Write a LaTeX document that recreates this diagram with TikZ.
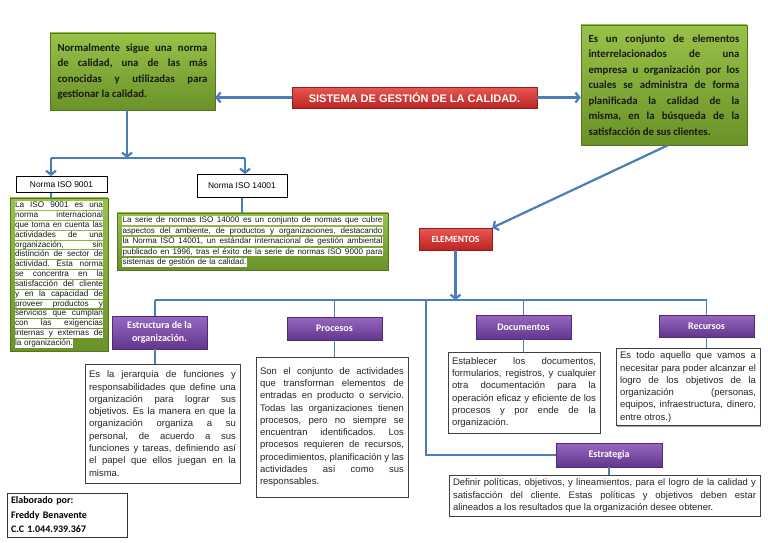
\documentclass[tikz,border=0pt]{standalone}
\usepackage{fontspec}
\setmainfont{Liberation Sans}
\newfontfamily\calibri{Carlito}
\usepackage{xcolor}
\usepackage{tikz}
\usetikzlibrary{positioning, arrows.meta, shadows}

\definecolor{azul}{RGB}{74,126,187}
\definecolor{verdeclaro}{RGB}{152,194,72}
\definecolor{verdeoscuro}{RGB}{106,146,40}
\definecolor{rojoclaro}{RGB}{232,88,82}
\definecolor{rojooscuro}{RGB}{188,36,34}
\definecolor{moradoclaro}{RGB}{152,104,192}
\definecolor{moradooscuro}{RGB}{98,54,142}
\tolerance=10000
\hbadness=10000
\hyphenpenalty=10000
\frenchspacing
% franjas blancas por renglon
\newcommand{\franja}[2]{\colorbox{white}{\parbox{#1}{\spaceskip=0pt\xspaceskip=0pt\parfillskip=0pt\relax\vrule height 0.72em depth 0.22em width 0pt #2}}}
\newcommand{\ultima}[1]{\colorbox{white}{\vrule height 0.72em depth 0.22em width 0pt #1}}

\begin{document}
\begin{tikzpicture}[x=1pt, y=-1pt,
    sombra/.style={drop shadow={shadow xshift=1.3pt, shadow yshift=-1.3pt, fill=black, opacity=0.35}},
    verde/.style={draw=verdeoscuro!80!black, top color=verdeclaro, bottom color=verdeoscuro, text=black!90, sombra},
    rojo/.style={draw=rojooscuro!80!black, top color=rojoclaro, bottom color=rojooscuro, text=white, sombra},
    morado/.style={draw=moradooscuro!80!black, top color=moradoclaro, bottom color=moradooscuro, text=white, minimum width=95pt, align=center, font=\calibri\bfseries\fontsize{10}{13}\selectfont, sombra},
    norma/.style={draw=black, line width=0.9pt, fill=white, font=\fontsize{8.4}{10}\selectfont},
    cuadro/.style={draw=black!75, line width=1pt, fill=white, align=justify, inner xsep=4pt, text=black!85, font=\fontsize{9.5}{12.3}\selectfont, sombra},
    flecha/.style={azul, line width=2.2pt, -{Straight Barb[length=4pt, width=10pt]}},
    tronco/.style={azul, line width=2.2pt},
    linea/.style={azul, line width=1.1pt}]
    \fill[white] (0,0) rectangle (768,543);
    \useasboundingbox (0,0) rectangle (768,543);

    % parte superior
    \node[verde, minimum width=165pt, minimum height=77pt, text width=150pt, align=justify,
        font=\calibri\bfseries\fontsize{10.8}{15.5}\selectfont] (nota) at (132.5,71.5)
        {Normalmente sigue una norma\linebreak de calidad, una de las más\linebreak conocidas y utilizadas para\linebreak gestionar la calidad.};
    \node[rojo, minimum width=245pt, minimum height=21pt, font=\bfseries\fontsize{11}{13}\selectfont] (titulo) at (414.5,97.5)
        {SISTEMA DE GESTIÓN DE LA CALIDAD.};
    \node[verde, minimum width=166pt, minimum height=120pt, text width=151pt, align=justify,
        font=\calibri\bfseries\fontsize{10.8}{15.5}\selectfont] (definicion) at (664,85)
        {Es un conjunto de elementos\linebreak interrelacionados de una\linebreak empresa u organización por los\linebreak cuales se administra de forma\linebreak planificada la calidad de la\linebreak misma, en la búsqueda de la\linebreak satisfacción de sus clientes.};

    % normas ISO
    \node[norma, minimum width=91pt, minimum height=16pt] (iso9001) at (61.5,184.5) {Norma ISO 9001};
    \node[norma, minimum width=90pt, minimum height=23pt] (iso14001) at (242,186) {Norma ISO 14001};
    \node[verde, minimum width=98pt, minimum height=151pt, text width=89pt, align=left,
        font=\fontsize{8.2}{9.85}\selectfont\setlength{\fboxsep}{0.5pt}] (texto9001) at (59,274.5)
        {\franja{88pt}{La ISO 9001 es una}\\
        \franja{88pt}{norma internacional}\\
        \franja{88pt}{que toma en cuenta las}\\
        \franja{88pt}{actividades de una}\\
        \franja{88pt}{organización, sin}\\
        \franja{88pt}{distinción de sector de}\\
        \franja{88pt}{actividad. Esta norma}\\
        \franja{88pt}{se concentra en la}\\
        \franja{88pt}{satisfacción del cliente}\\
        \franja{88pt}{y en la capacidad de}\\
        \franja{88pt}{proveer productos y}\\
        \franja{88pt}{servicios que cumplan}\\
        \franja{88pt}{con las exigencias}\\
        \franja{88pt}{internas y externas de}\\
        \ultima{la organización.}};
    \node[verde, minimum width=271pt, minimum height=57pt, text width=261pt, align=left,
        font=\fontsize{8.1}{10.5}\selectfont\setlength{\fboxsep}{0.5pt}] (texto14001) at (252.5,241.5)
        {\franja{260pt}{La serie de normas ISO 14000 es un conjunto de normas que cubre}\\
        \franja{260pt}{aspectos del ambiente, de productos y organizaciones, destacando}\\
        \franja{260pt}{la Norma ISO 14001, un estándar internacional de gestión ambiental}\\
        \franja{260pt}{publicado en 1996, tras el éxito de la serie de normas ISO 9000 para}\\
        \ultima{sistemas de gestión de la calidad.}};

    % elementos
    \node[rojo, minimum width=73pt, minimum height=22pt, font=\calibri\bfseries\fontsize{9.5}{11}\selectfont] (elementos) at (455.5,239) {ELEMENTOS};
    \node[morado, minimum height=33pt] (estructura) at (159.5,332.5) {Estructura de la\\organización.};
    \node[morado, minimum height=23pt] (procesos) at (334.5,328.5) {Procesos};
    \node[morado, minimum height=24pt] (documentos) at (523.5,327) {Documentos};
    \node[morado, minimum height=22pt] (recursos) at (706.5,326) {Recursos};
    \node[morado, minimum width=106pt, minimum height=24pt] (estrategia) at (609,455) {Estrategia};

    \node[cuadro, minimum width=155pt, minimum height=119pt, text width=147pt] (txtestructura) at (162.5,423.5)
        {Es la jerarquía de funciones y\linebreak responsabilidades que define una\linebreak organización para lograr sus\linebreak objetivos. Es la manera en que la\linebreak organización organiza a su\linebreak personal, de acuerdo a sus\linebreak funciones y tareas, definiendo así\linebreak el papel que ellos juegan en la\linebreak misma.};
    \node[cuadro, minimum width=152pt, minimum height=140pt, text width=144pt] (txtprocesos) at (332,427)
        {Son el conjunto de actividades\linebreak que transforman elementos de\linebreak entradas en producto o servicio.\linebreak Todas las organizaciones tienen\linebreak procesos, pero no siempre se\linebreak encuentran identificados. Los\linebreak procesos requieren de recursos,\linebreak procedimientos, planificación y las\linebreak actividades así como sus\linebreak responsables.};
    \node[cuadro, minimum width=152pt, minimum height=81pt, text width=144pt] (txtdocumentos) at (524,392.5)
        {Establecer los documentos,\linebreak formularios, registros, y cualquier\linebreak otra documentación para la\linebreak operación eficaz y eficiente de los\linebreak procesos y por ende de la\linebreak organización.};
    \node[cuadro, minimum width=144pt, minimum height=76pt, text width=136pt] (txtrecursos) at (688,387)
        {Es todo aquello que vamos a\linebreak necesitar para poder alcanzar el\linebreak logro de los objetivos de la\linebreak organización (personas,\linebreak equipos, infraestructura, dinero,\linebreak entre otros.)};
    \node[cuadro, minimum width=311pt, minimum height=41pt, text width=303pt] (txtestrategia) at (604.5,495.5)
        {Definir políticas, objetivos, y lineamientos, para el logro de la calidad y\linebreak satisfacción del cliente. Estas políticas y objetivos deben estar\linebreak alineados a los resultados que la organización desee obtener.};

    \node[draw=black!80, line width=1pt, fill=white, minimum width=120pt, minimum height=44pt, text width=112pt,
        align=left, font=\calibri\bfseries\fontsize{10}{14.5}\selectfont] (elaborado) at (67,515)
        {Elaborado por:\\Freddy Benavente\\C.C 1.044.939.367};

    % conectores
    \coordinate (rama) at (127,158);
    \coordinate (ramaiz) at (51,158);
    \coordinate (ramade) at (245,158);
    \coordinate (busiz) at (155,300);
    \coordinate (ramaest) at (426,300);

    \draw[flecha] (titulo.west) -- (titulo.west -| nota.east);
    \draw[flecha] (titulo.east) -- (titulo.east -| definicion.west);
    \draw[flecha] ([xshift=4pt]definicion.south) -- (elementos.north east);
    \draw[flecha] (nota.south -| rama) -- (rama);
    \draw[tronco] (ramaiz) -- (ramade);
    \draw[flecha] (ramaiz) -- (ramaiz |- iso9001.north);
    \draw[flecha] (ramade) -- (ramade |- iso14001.north);
    \draw[linea] (ramaiz |- iso9001.south) -- (ramaiz |- texto9001.north);
    \draw[linea] (iso14001.south) -- (iso14001.south |- texto14001.north);

    \draw[linea] (busiz) -- (busiz -| recursos.north);
    \draw[flecha] (elementos.south) -- (elementos.south |- busiz);
    \draw[linea] (busiz) -- (busiz |- estructura.north);
    \draw[linea] (busiz |- estructura.south) -- (busiz |- txtestructura.north);
    \draw[linea] (procesos.north |- busiz) -- (procesos.north);
    \draw[linea] (procesos.south) -- (procesos.south |- txtprocesos.north);
    \draw[linea] (documentos.north |- busiz) -- (documentos.north);
    \draw[linea] (documentos.south) -- (documentos.south |- txtdocumentos.north);
    \draw[linea] (recursos.north |- busiz) -- (recursos.north);
    \draw[linea] (recursos.south) -- (recursos.south |- txtrecursos.north);
    \draw[linea] (ramaest) |- (estrategia.west);
    \draw[linea] (estrategia.south) -- (estrategia.south |- txtestrategia.north);
\end{tikzpicture}
\end{document}
